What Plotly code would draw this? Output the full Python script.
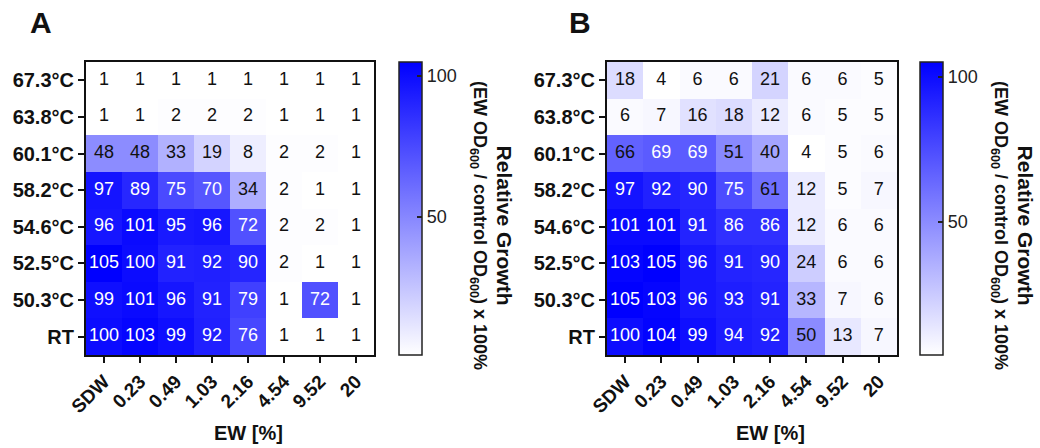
import plotly.graph_objects as go

cols = ["SDW", "0.23", "0.49", "1.03", "2.16", "4.54", "9.52", "20"]
rows = ["67.3°C", "63.8°C", "60.1°C", "58.2°C", "54.6°C", "52.5°C", "50.3°C", "RT"]

growth_a = [
    [1, 1, 1, 1, 1, 1, 1, 1],
    [1, 1, 2, 2, 2, 1, 1, 1],
    [48, 48, 33, 19, 8, 2, 2, 1],
    [97, 89, 75, 70, 34, 2, 1, 1],
    [96, 101, 95, 96, 72, 2, 2, 1],
    [105, 100, 91, 92, 90, 2, 1, 1],
    [99, 101, 96, 91, 79, 1, 72, 1],
    [100, 103, 99, 92, 76, 1, 1, 1],
]
growth_b = [
    [18, 4, 6, 6, 21, 6, 6, 5],
    [6, 7, 16, 18, 12, 6, 5, 5],
    [66, 69, 69, 51, 40, 4, 5, 6],
    [97, 92, 90, 75, 61, 12, 5, 7],
    [101, 101, 91, 86, 86, 12, 6, 6],
    [103, 105, 96, 91, 90, 24, 6, 6],
    [105, 103, 96, 93, 91, 33, 7, 6],
    [100, 104, 99, 94, 92, 50, 13, 7],
]

W, H = 1040, 448
FONT = "Liberation Sans, Arial, sans-serif"
scale = [[0, "#ffffff"], [1, "#0000ff"]]

fig = go.Figure()

panels = [
    dict(z=growth_a, xa="x", ya="y", x0=86, x1=374, cbx=399, letter="A", lx=41, ewx=248),
    dict(z=growth_b, xa="x2", ya="y2", x0=607, x1=897, cbx=920, letter="B", lx=580, ewx=770),
]
ytop, ybot = 62, 355

for i, p in enumerate(panels):
    z = p["z"]
    flat = [v for r in z for v in r]
    fig.add_trace(go.Heatmap(
        z=z, x=cols, y=rows, xaxis=p["xa"], yaxis=p["ya"],
        colorscale=scale, zmin=min(flat), zmax=max(flat),
        hoverinfo="skip",
        colorbar=dict(
            x=p["cbx"] / W, xanchor="left", xpad=0, ypad=0,
            y=(H - ybot) / H, yanchor="bottom",
            len=(ybot - ytop) / H, lenmode="fraction",
            thickness=23, thicknessmode="pixels",
            outlinewidth=1.5, outlinecolor="#222",
            tickvals=[50, 100], ticks="inside", ticklen=5, tickwidth=1.5,
            tickcolor="#222",
            tickfont=dict(family=FONT, size=18, color="#222"),
        ),
    ))
    xs, ys, txt, colr = [], [], [], []
    for ri, r in enumerate(z):
        for ci, v in enumerate(r):
            xs.append(cols[ci]); ys.append(rows[ri]); txt.append(str(v))
            colr.append("#ffffff" if v > 67 else "#111111")
    fig.add_trace(go.Scatter(
        x=xs, y=ys, text=txt, mode="text", xaxis=p["xa"], yaxis=p["ya"],
        textposition="middle center", hoverinfo="skip", showlegend=False,
        textfont=dict(family=FONT, size=18, color=colr),
    ))
    sfx = "" if i == 0 else "2"
    fig.update_layout(**{
        "xaxis" + sfx: dict(
            domain=[p["x0"] / W, p["x1"] / W], anchor="y" + sfx, automargin=False,
            type="category", tickangle=-45, ticks="outside", ticklen=6, tickwidth=2,
            tickcolor="#111", showline=True, linewidth=2, linecolor="#111", mirror=True,
            showgrid=False, zeroline=False,
            tickfont=dict(family=FONT, size=19, color="#111", weight="bold"),
        ),
        "yaxis" + sfx: dict(
            domain=[(H - ybot) / H, (H - ytop) / H], anchor="x" + sfx, automargin=False,
            type="category", autorange="reversed", ticks="outside", ticklen=6, tickwidth=2,
            tickcolor="#111", showline=True, linewidth=2, linecolor="#111", mirror=True,
            showgrid=False, zeroline=False,
            tickfont=dict(family=FONT, size=20, color="#111", weight="bold"),
        ),
    })
    fig.add_annotation(text="<b>" + p["letter"] + "</b>", x=p["lx"] / W, y=(H - 22) / H,
                       xref="paper", yref="paper", showarrow=False,
                       xanchor="center", yanchor="middle",
                       font=dict(family=FONT, size=30, color="#111"))
    fig.add_annotation(text="<b>EW [%]</b>", x=p["ewx"] / W, y=(H - 433) / H,
                       xref="paper", yref="paper", showarrow=False,
                       xanchor="center", yanchor="middle",
                       font=dict(family=FONT, size=20, color="#111"))
    fig.add_annotation(
        text="<b><span style='font-size:21px'>Relative Growth</span></b><br>"
             "<b>(EW OD<sub>600</sub> / control OD<sub>600</sub>) x 100%</b>",
        x=(p["cbx"] + 92) / W, y=(H - 225) / H, xref="paper", yref="paper",
        xanchor="center", yanchor="middle",
        showarrow=False, textangle=90, align="center",
        font=dict(family=FONT, size=18, color="#111"),
    )

fig.update_layout(
    width=W, height=H, margin=dict(l=0, r=0, t=0, b=0, autoexpand=False),
    paper_bgcolor="white", plot_bgcolor="white", showlegend=False,
)

fig.write_html("out.html")
